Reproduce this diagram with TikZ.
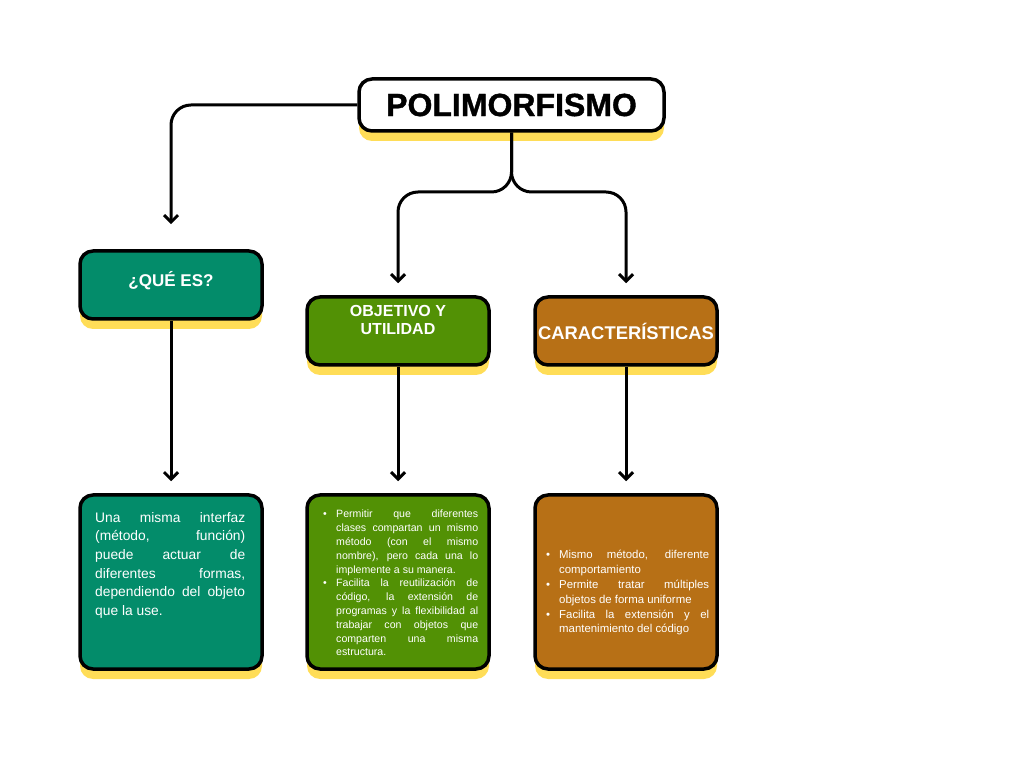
\documentclass[tikz,border=0pt]{standalone}
\usepackage{fontspec}
\setmainfont{Liberation Sans}
\usetikzlibrary{arrows.meta,shadows}

\definecolor{tealbox}{RGB}{3,140,106}
\definecolor{greenbox}{RGB}{82,145,5}
\definecolor{brownbox}{RGB}{183,112,22}
\definecolor{shadowyellow}{RGB}{255,221,87}

% heavier face for the title
\newfontfamily\titlefont[FakeBold=1.2]{Liberation Sans Bold}

% bullet item with hanging indent
\newcommand\bitem{\par\noindent\hangindent=12pt\hangafter=1\makebox[12pt][l]{\hspace{-1pt}\textbullet}}

\tikzset{
  box/.style={draw=black, line width=3.5pt, rounded corners=13pt,
    general shadow={fill=shadowyellow, shadow yshift=-10pt},
    minimum width=182pt, inner sep=0pt},
  conn/.style={draw=black, line width=3pt, rounded corners=20pt,
    -{Straight Barb[length=7pt,width=14pt,line width=3pt]}},
  headtext/.style={text=white, font=\bfseries\fontsize{16}{18}\selectfont, align=center},
  bodytext/.style={text=white, align=justify, inner sep=0pt, anchor=north west},
}

\begin{document}
\begin{tikzpicture}[x=1pt,y=1pt]
\useasboundingbox (0,0) rectangle (1024,768);

% title
\node[box, fill=white, minimum width=305pt, minimum height=52pt,
      font=\titlefont\fontsize{32}{36}\selectfont] (title) at (511.5,663) {POLIMORFISMO};

% headings
\node[box, fill=tealbox, minimum height=68pt] (qhead) at (171,483) {};
\node[text=white, font=\bfseries\fontsize{17}{20}\selectfont] (qtext0) at (171,487) {¿QUÉ ES?};
\node[box, fill=greenbox, minimum height=68pt] (ohead) at (398,437) {};
\node[headtext] (otext) at (398,448.5) {OBJETIVO Y\\UTILIDAD};
\node[box, fill=brownbox, minimum height=68pt, text=white,
      font=\bfseries\fontsize{18.4}{20}\selectfont] (chead) at (626,437) {CARACTERÍSTICAS};

% content boxes
\node[box, fill=tealbox, minimum height=174pt] (qbody) at (171,186) {};
\node[box, fill=greenbox, minimum height=174pt] (obody) at (398,186) {};
\node[box, fill=brownbox, minimum height=174pt] (cbody) at (626,186) {};

\node[bodytext, text width=150pt, font=\fontsize{13.8}{18.7}\selectfont] (qtext) at (95,256)
  {Una misma interfaz\linebreak (método, función)\linebreak puede actuar de\linebreak
   diferentes formas,\linebreak dependiendo del objeto\linebreak que la use.\par};

\node[bodytext, text width=154pt, font=\fontsize{10.6}{13.8}\selectfont] (otext2) at (324,264)
  {\bitem Permitir que diferentes\linebreak clases compartan un mismo\linebreak
   método (con el mismo\linebreak nombre), pero cada una lo\linebreak implemente a su manera.
   \bitem Facilita la reutilización de\linebreak código, la extensión de\linebreak
   programas y la flexibilidad al\linebreak trabajar con objetos que\linebreak
   comparten una misma\linebreak estructura.\par};

\node[bodytext, text width=162pt, font=\fontsize{11.4}{14.8}\selectfont] (ctext) at (547,224)
  {\bitem Mismo método, diferente\linebreak comportamiento
   \bitem Permite tratar múltiples\linebreak objetos de forma uniforme
   \bitem Facilita la extensión y el\linebreak mantenimiento del código\par};

% connectors
\coordinate (split) at (511.5,576);
\draw[conn] (title.west) -| ([yshift=25pt]qhead.north);
\draw[conn] (title.south) -- (split) -| ([yshift=12pt]ohead.north);
\draw[conn] (title.south) -- (split) -| ([yshift=12pt]chead.north);
\draw[conn] (qhead.south) -- ([yshift=12pt]qbody.north);
\draw[conn] (ohead.south) -- ([yshift=12pt]obody.north);
\draw[conn] (chead.south) -- ([yshift=12pt]cbody.north);
\end{tikzpicture}
\end{document}
